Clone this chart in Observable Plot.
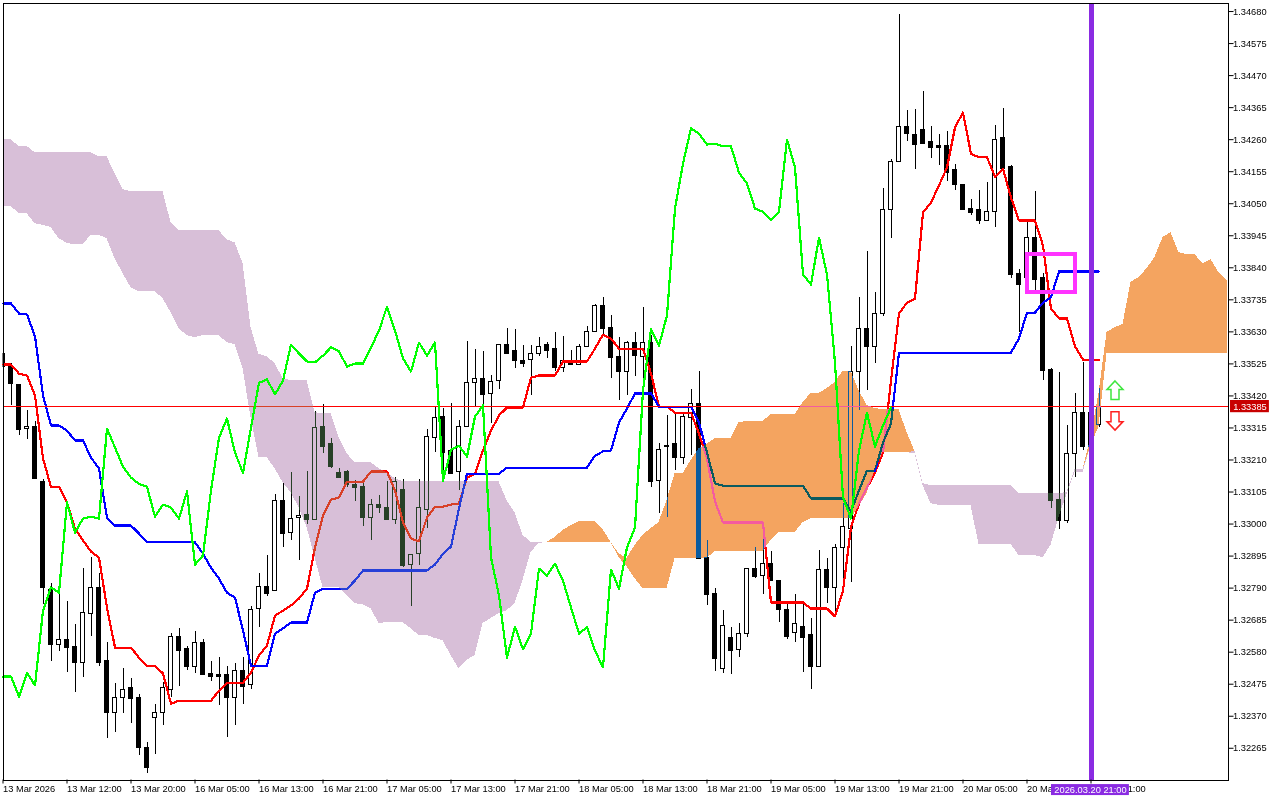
<!DOCTYPE html>
<html><head><meta charset="utf-8">
<script src="https://cdn.jsdelivr.net/npm/d3@7"></script>
<script src="https://cdn.jsdelivr.net/npm/@observablehq/plot@0.6"></script>
<style>html,body{margin:0;padding:0;background:#fff}svg{display:block}</style>
</head><body><div id="chart"></div>
<script>
// All series are in points above 1.00000 (1 point = 0.00001)
const open = [33556,33516,33457,33313,33319,33139,32785,32605,32621,32598,32543,32706,32792,32550,32379,32431,32461,32431,32267,32363,32379,32457,32631,32592,32530,32611,32510,32504,32504,32431,32517,32471,32723,32795,32779,33077,32972,33021,33031,33014,33319,33261,33168,33172,33129,33122,33021,33064,33054,33014,33110,32867,32903,33047,33283,33352,33238,33172,33319,33463,33477,33425,33470,33588,33566,33536,33539,33556,33588,33575,33513,33533,33523,33579,33631,33716,33644,33546,33497,33595,33546,33595,33142,33257,33261,33218,33346,33395,32890,32772,32526,32628,32588,32641,32854,32831,32870,32812,32719,32644,32661,32635,32530,32851,32789,32920,32985,33497,33641,33582,33687,34031,34188,34300,34274,34293,34251,34238,34238,34159,34113,34034,34028,33995,34024,34267,34169,33821,33805,33939,33808,33506,33080,33011,33228,33365,33254,33326];
const close = [33516,33460,33309,33319,33149,32792,32605,32621,32595,32543,32709,32789,32546,32379,32431,32457,32428,32267,32199,32382,32461,32631,32585,32533,32611,32504,32497,32500,32431,32517,32467,32719,32795,32772,33074,32969,33018,33028,33014,33316,33254,33188,33152,33129,33119,33021,33064,33051,33014,33139,32864,32900,33051,33286,33349,33234,33165,33319,33463,33477,33422,33467,33588,33556,33533,33526,33559,33582,33566,33513,33533,33520,33582,33631,33716,33641,33543,33497,33595,33552,33592,33139,33244,33254,33218,33352,33392,32887,32766,32559,32667,32585,32641,32854,32828,32870,32812,32719,32631,32671,32628,32530,32851,32789,32920,32989,33500,33641,33582,33687,34031,34188,34300,34277,34241,34247,34234,34234,34152,34110,34031,34021,33995,34024,34260,34165,33815,33782,33939,33801,33503,33077,33011,33228,33365,33254,33365,33385];
const high = [33562,33526,33457,33372,33336,33145,32805,32772,32746,32671,32854,32890,32838,32611,32477,32527,32494,32441,32283,32408,32480,32641,32658,32598,32648,32621,32550,32562,32533,32543,32562,32729,32838,32897,33097,33132,33168,33090,33172,33369,33392,33280,33182,33175,33142,33142,33080,33094,33139,33152,33145,32900,33145,33309,33385,33379,33395,33339,33598,33571,33566,33487,33588,33641,33638,33585,33585,33611,33595,33628,33615,33569,33588,33647,33720,33743,33684,33611,33598,33628,33710,33618,33264,33356,33362,33362,33441,33500,32946,32788,32716,32661,32674,32854,32923,32969,32910,32812,32739,32769,32736,32690,32913,32887,32933,33067,33582,33743,33893,33759,34100,34195,34670,34355,34359,34418,34303,34277,34287,34179,34113,34064,34093,34120,34306,34362,34175,33834,33992,34090,33821,33510,33497,33323,33428,33529,33405,33444];
const low = [33513,33389,33290,33276,33145,32736,32550,32582,32513,32447,32497,32631,32533,32297,32316,32379,32346,32242,32182,32245,32340,32431,32467,32520,32510,32504,32484,32405,32300,32340,32408,32457,32661,32762,32779,32923,32946,32880,32998,33014,33231,33182,33152,33119,33074,32991,32946,33034,33011,32998,32857,32729,32864,32985,33234,33168,33165,33110,33319,33385,33389,33329,33441,33556,33510,33513,33422,33549,33543,33500,33497,33520,33520,33579,33628,33618,33477,33405,33422,33483,33415,33119,33034,33021,33175,33195,33224,32887,32733,32516,32510,32507,32562,32628,32822,32769,32812,32677,32621,32611,32513,32457,32530,32739,32710,32808,32808,33372,33438,33526,33680,33936,34188,34254,34162,34244,34198,34175,34123,34093,34031,34011,33982,33992,33972,34162,33805,33628,33782,33765,33470,33051,32982,33001,33152,33241,33241,33316];
const tenkan = [33523,33523,33493,33487,33422,33215,33122,33122,33071,32985,32946,32910,32890,32726,32595,32595,32595,32562,32536,32536,32510,32411,32421,32421,32421,32421,32421,32454,32480,32480,32480,32513,32569,32602,32700,32716,32733,32756,32788,32923,33028,33080,33087,33139,33139,33139,33172,33172,33172,33110,33005,32953,32943,33021,33057,33057,33064,33067,33152,33165,33241,33306,33356,33382,33382,33382,33480,33487,33487,33487,33533,33533,33533,33533,33575,33621,33608,33575,33575,33575,33575,33493,33385,33385,33365,33365,33365,33296,33215,33074,33005,33005,33005,33005,33005,33005,32743,32743,32743,32743,32743,32723,32723,32723,32697,32782,32989,33067,33119,33168,33234,33470,33690,33726,33739,34021,34054,34110,34169,34300,34349,34214,34202,34202,34139,34165,34070,33995,33995,33995,33913,33706,33674,33674,33582,33539,33539,33539];
const kijun = [33723,33723,33690,33687,33615,33422,33323,33323,33306,33274,33274,33218,33182,33021,32995,32995,32995,32969,32940,32940,32940,32940,32940,32940,32940,32903,32857,32821,32775,32759,32651,32536,32536,32536,32641,32658,32677,32677,32677,32775,32788,32788,32788,32788,32815,32848,32848,32848,32848,32848,32848,32848,32848,32848,32867,32903,32926,33051,33165,33165,33165,33165,33165,33185,33185,33185,33185,33185,33185,33185,33185,33185,33185,33185,33224,33238,33241,33333,33379,33428,33428,33428,33385,33385,33385,33385,33385,33333,33234,33133,33126,33126,33126,33126,33126,33126,33126,33126,33126,33126,33126,33084,33084,33084,33084,33084,33041,33110,33175,33175,33267,33329,33562,33562,33562,33562,33562,33562,33562,33562,33562,33562,33562,33562,33562,33562,33562,33608,33693,33693,33726,33743,33828,33828,33828,33828,33828,33828];
const chikou = [32500,32500,32434,32513,32471,32716,32792,32775,33071,32972,33018,33024,33018,33313,33251,33188,33152,33132,33122,33024,33064,33054,33018,33107,32867,32897,33110,33283,33346,33234,33168,33316,33463,33474,33425,33470,33588,33559,33533,33530,33552,33579,33566,33516,33526,33526,33579,33634,33713,33634,33543,33500,33595,33552,33595,33142,33244,33257,33221,33352,33389,32890,32766,32562,32664,32589,32641,32854,32831,32870,32815,32726,32641,32661,32585,32530,32851,32788,32923,32989,33438,33638,33585,33684,34034,34182,34297,34280,34244,34247,34238,34238,34152,34116,34034,34024,33998,34024,34260,34169,33818,33785,33939,33818,33529,33087,33018,33241,33365,33254,33323,33382];
const spanA = [34041,34041,34018,34018,33985,33979,33972,33936,33920,33916,33916,33946,33946,33936,33870,33821,33775,33762,33762,33762,33739,33693,33641,33618,33611,33618,33618,33618,33595,33588,33510,33349,33218,33218,33182,33136,33103,33054,32989,32890,32792,32792,32792,32766,32739,32736,32723,32674,32677,32677,32677,32657,32635,32635,32625,32618,32569,32526,32553,32569,32674,32690,32707,32716,32739,32815,32907,32936,32940,32956,32979,32995,33008,33008,33008,32982,32940,32903,32887,32930,32963,32985,33005,33077,33165,33165,33208,33247,33261,33280,33280,33280,33333,33336,33336,33336,33359,33359,33359,33359,33398,33428,33428,33444,33464,33500,33500,33438,33389,33379,33375,33375,33375,33300,33231,33126,33067,33061,33061,33061,33061,33061,32933,32933,32933,32933,32933,32897,32897,32897,32890,32930,33021,33097,33169,33169,33283,33428,33628,33644,33654,33792,33808,33837,33874,33939,33955,33890,33883,33883,33854,33867,33824,33798];
const spanB = [34260,34260,34238,34238,34217,34217,34217,34217,34217,34217,34217,34217,34204,34204,34149,34096,34090,34090,34090,34090,34090,33988,33962,33962,33962,33962,33962,33962,33932,33922,33854,33644,33556,33549,33526,33477,33470,33470,33470,33365,33362,33362,33283,33231,33201,33201,33201,33182,33168,33149,33139,33139,33139,33139,33139,33139,33139,33139,33139,33139,33139,33139,33139,33077,33037,32963,32940,32940,32940,32940,32940,32940,32940,32940,32940,32940,32940,32890,32860,32821,32788,32788,32788,32788,32887,32887,32887,32887,32887,32910,32910,32910,32910,32910,32910,32910,32946,32972,32972,32972,33005,33018,33018,33018,33018,33018,33018,33057,33100,33175,33234,33234,33234,33234,33238,33133,33126,33126,33126,33126,33126,33126,33126,33126,33126,33126,33126,33100,33100,33100,33100,33100,33100,33103,33179,33179,33257,33319,33559,33559,33559,33559,33559,33559,33559,33559,33559,33559,33559,33559,33559,33559,33559,33559];
const xTickBars = [0,8,16,24,32,40,48,56,64,72,80,88,96,104,112,120,128,136];
const xTickLabels = ["13 Mar 2026","13 Mar 12:00","13 Mar 20:00","16 Mar 05:00","16 Mar 13:00","16 Mar 21:00","17 Mar 05:00","17 Mar 13:00","17 Mar 21:00","18 Mar 05:00","18 Mar 13:00","18 Mar 21:00","19 Mar 05:00","19 Mar 13:00","19 Mar 21:00","20 Mar 05:00","20 Mar 13:00","20 Mar 21:00"];
const yTicks = [1.34680,1.34575,1.34470,1.34365,1.34260,1.34155,1.34050,1.33945,1.33840,1.33735,1.33630,1.33525,1.33420,1.33315,1.33210,1.33105,1.33000,1.32895,1.32790,1.32685,1.32580,1.32475,1.32370,1.32265];
const lastPrice = 1.33385;
const markerBar = 136;
const markerLabel = "2026.03.20 21:00";
const boxBars = [128,134];
const boxPrices = [1.33758,1.33882];
const arrowBar = 139;
const upArrowPrice = 1.33438;
const downArrowPrice = 1.33339;
const FONT = "Liberation Sans";
const FS = 9.3;

const P = v => 1 + v / 1e5;
const bars = open.map((o,i) => ({i, o:P(o), c:P(close[i]), h:P(high[i]), l:P(low[i]), bull:close[i] >= o}));
const tk = tenkan.map((v,i) => ({i, v:P(v)}));
const kj = kijun.map((v,i) => ({i, v:P(v)}));
const ck = chikou.map((v,i) => ({i, v:P(v)}));
const cloud = spanA.map((a,i) => ({i, a:P(a), b:P(spanB[i])}));

const arrowUp = {draw(c){c.moveTo(0,-9.5);c.lineTo(8,-1);c.lineTo(4,-1);c.lineTo(4,9);c.lineTo(-4,9);c.lineTo(-4,-1);c.lineTo(-8,-1);c.closePath();}};
const arrowDown = {draw(c){c.moveTo(0,9.5);c.lineTo(8,1);c.lineTo(4,1);c.lineTo(4,-9);c.lineTo(-4,-9);c.lineTo(-4,1);c.lineTo(-8,1);c.closePath();}};

const crisp = {shapeRendering:"crispEdges"};
const chart = Plot.plot({
  width:1280, height:800,
  marginLeft:2.5, marginRight:52.5, marginTop:2.5, marginBottom:20.5,
  style:{fontFamily:FONT, fontSize:FS+"px", background:"white", color:"black"},
  x:{domain:[0,153.125], axis:null},
  y:{domain:[1.32161,1.34708], axis:null},
  marks:[
    Plot.frame({fill:"white", stroke:"none"}),
    Plot.ruleX(bars,{x:"i", y1:"l", y2:"h", stroke:"black", strokeWidth:1, clip:true, ...crisp}),
    Plot.rect(bars,{x1:d=>d.i-0.25, x2:d=>d.i+0.25, y1:"o", y2:"c", fill:d=>d.bull?"white":"black", stroke:"black", strokeWidth:1, clip:true, ...crisp}),
    Plot.line(tk,{x:"i", y:"v", stroke:"#ff0000", strokeWidth:2.2, curve:"linear", ...crisp}),
    Plot.line(kj,{x:"i", y:"v", stroke:"#0000ff", strokeWidth:2.2, curve:"linear", ...crisp}),
    Plot.ruleY([lastPrice],{stroke:"#ff0000", strokeWidth:1, ...crisp}),
    Plot.areaY(cloud,{x:"i", y1:"b", y2:d=>Math.max(d.a,d.b), fill:"#0b5b9f", mixBlendMode:"difference", ...crisp}),
    Plot.areaY(cloud,{x:"i", y1:"b", y2:d=>Math.min(d.a,d.b), fill:"#274027", mixBlendMode:"difference", ...crisp}),
    Plot.line(ck,{x:"i", y:"v", stroke:"#00ff00", strokeWidth:2.2, curve:"linear", ...crisp}),
    Plot.ruleX([markerBar],{stroke:"#8a2be2", strokeWidth:5, ...crisp}),
    Plot.rect([0],{x1:boxBars[0], x2:boxBars[1], y1:boxPrices[0], y2:boxPrices[1], fill:"none", stroke:"#ff33ff", strokeWidth:4, ...crisp}),
    Plot.dot([0],{x:arrowBar, y:upArrowPrice, symbol:arrowUp, r:5, fill:"white", stroke:"#3ee63e", strokeWidth:1.5}),
    Plot.dot([0],{x:arrowBar, y:downArrowPrice, symbol:arrowDown, r:5, fill:"white", stroke:"#ff2020", strokeWidth:1.5}),
    Plot.frame({stroke:"black", strokeWidth:1, fill:"none", ...crisp}),
    Plot.axisX(xTickBars,{anchor:"bottom", tickSize:4, tickPadding:1, textAnchor:"start", tickFormat:d=>xTickLabels[xTickBars.indexOf(d)], fontSize:FS, fontFamily:FONT, fill:"black", stroke:"black", label:null}),
    Plot.axisY(yTicks,{anchor:"right", tickSize:5, tickPadding:0, tickFormat:d=>d.toFixed(5), fontSize:FS, fontFamily:FONT, fill:"black", stroke:"black", label:null}),
    Plot.rect([0],{x1:153.44, x2:158.3, y1:lastPrice-0.0002, y2:lastPrice+0.0002, fill:"#c80000"}),
    Plot.text([0],{x:155.87, y:lastPrice, text:()=>lastPrice.toFixed(5), fill:"white", fontSize:FS, fontFamily:FONT}),
    Plot.rect([0],{x1:131.06, x2:140.8, y1:1.32110, y2:1.32146, fill:"#8a2be2"}),
    Plot.text([0],{x:135.94, y:1.32128, text:()=>markerLabel, fill:"white", fontSize:FS, fontFamily:FONT})
  ]
});
document.getElementById("chart").append(chart);
</script>
</body></html>
